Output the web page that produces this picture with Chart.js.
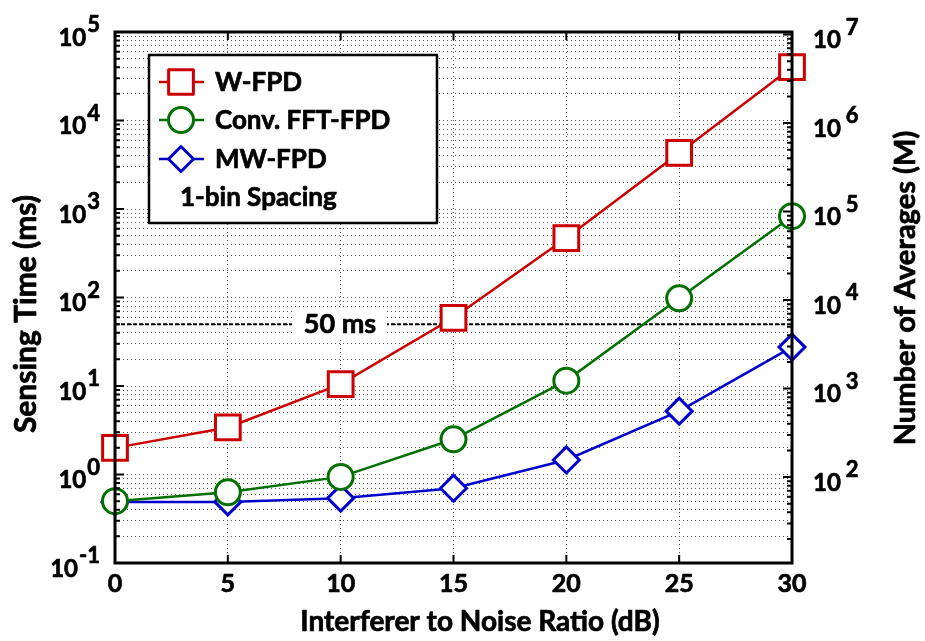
<!DOCTYPE html>
<html>
<head>
<meta charset="utf-8">
<title>Sensing Time vs INR</title>
<script src="https://cdn.jsdelivr.net/npm/chart.js@4.4.1/dist/chart.umd.min.js"></script>
<style>
    html, body { margin: 0; padding: 0; background: #fff; }
    #wrap { width: 925px; height: 641px; position: relative; }
</style>
</head>
<body>
<div id="wrap"><canvas id="sensingChart"></canvas></div>
<script>
// Interferer-to-noise ratio (dB) and sensing time (ms) per detector
const inrDb = [0, 5, 10, 15, 20, 25, 30];
const wFpd = [2.0, 3.4, 10.5, 59, 470, 4300, 40000];
const convFftFpd = [0.50, 0.63, 0.94, 2.5, 11.5, 98, 830];
const mwFpd = [0.49, 0.49, 0.54, 0.70, 1.46, 5.2, 27.5];
const limitMs = 50;

const xTicks = [0, 5, 10, 15, 20, 25, 30];
const leftExp = [-1, 0, 1, 2, 3, 4, 5];
const rightExp = [2, 3, 4, 5, 6, 7];
const rightMin = 10.7, rightMax = 1.07e7;

const RED = '#cc0000', GREEN = '#007000', BLUE = '#0000cc';
const FONT = 'Lato, "Open Sans", sans-serif';

// every k*10^n between min and max, k = 1 marks a decade
function logTicks(min, max) {
    const out = [];
    for (let e = Math.floor(Math.log10(min)); e <= Math.ceil(Math.log10(max)); e++) {
        for (let k = 1; k <= 9; k++) {
            const v = k * Math.pow(10, e);
            if (v >= min * 0.999 && v <= max * 1.001) out.push({ value: v, major: k === 1 });
        }
    }
    return out;
}

const pts = arr => inrDb.map((x, i) => ({ x: x, y: arr[i] }));

// bold text with a hairline stroke so it reads a bit heavier
function heavyText(ctx, str, x, y) {
    ctx.lineWidth = 0.7;
    ctx.strokeStyle = ctx.fillStyle;
    ctx.lineJoin = 'round';
    ctx.strokeText(str, x, y);
    ctx.fillText(str, x, y);
}

function drawPow(ctx, x, y, exp, align) {
    const base = 'bold 24px ' + FONT;
    const sup = 'bold 22px ' + FONT;
    ctx.font = base;
    const wb = ctx.measureText('10').width;
    ctx.font = sup;
    const ws = ctx.measureText(String(exp)).width;
    const gap = align === 'right' ? 1 : 5;
    const x0 = align === 'right' ? x - wb - ws - gap : x;
    ctx.textAlign = 'left';
    ctx.textBaseline = 'middle';
    ctx.font = base;
    heavyText(ctx, '10', x0, y + 6);
    ctx.font = sup;
    heavyText(ctx, String(exp), x0 + wb + gap, y - 7);
}

const framePlugin = {
    id: 'frame',
    afterDatasetsDraw(chart) {
        const ctx = chart.ctx;
        const y = chart.scales.y;
        // label for the 50 ms budget line
        const ly = y.getPixelForValue(limitMs);
        ctx.save();
        ctx.fillStyle = '#fff';
        ctx.fillRect(292, ly - 16, 95, 32);
        ctx.fillStyle = '#000';
        ctx.font = 'bold 27px ' + FONT;
        ctx.textAlign = 'center';
        ctx.textBaseline = 'middle';
        heavyText(ctx, '50 ms', 340, ly);

        // legend box
        ctx.fillStyle = '#fff';
        ctx.fillRect(149, 55, 288, 168);
        ctx.strokeStyle = '#000';
        ctx.lineWidth = 2.5;
        ctx.strokeRect(149, 55, 288, 168);
        const rows = [
            { label: 'W-FPD', color: RED, style: 'rect', y: 82 },
            { label: 'Conv. FFT-FPD', color: GREEN, style: 'circle', y: 120 },
            { label: 'MW-FPD', color: BLUE, style: 'rectRot', y: 159 }
        ];
        rows.forEach(r => {
            ctx.strokeStyle = r.color;
            ctx.lineWidth = 2.5;
            ctx.beginPath();
            ctx.moveTo(159, r.y);
            ctx.lineTo(204, r.y);
            ctx.stroke();
            ctx.fillStyle = '#fff';
            ctx.lineWidth = 3;
            Chart.helpers.drawPoint(ctx, { pointStyle: r.style, radius: r.style === 'rect' ? 17.5 : 12.5, rotation: 0, borderWidth: 3 }, 181, r.y);
            ctx.fillStyle = '#000';
            ctx.font = 'bold 26px ' + FONT;
            ctx.textAlign = 'left';
            ctx.textBaseline = 'middle';
            heavyText(ctx, r.label, 215, r.y + 1);
        });
        heavyText(ctx, '1-bin Spacing', 180, 198);
        ctx.restore();
    },
    afterDraw(chart) {
        const ctx = chart.ctx;
        const a = chart.chartArea;
        const x = chart.scales.x, y = chart.scales.y, y2 = chart.scales.y2;
        ctx.save();
        ctx.strokeStyle = '#000';

        // inward ticks
        ctx.lineWidth = 2;
        ctx.beginPath();
        y.ticks.forEach(t => {
            const p = y.getPixelForValue(t.value);
            const len = t.major ? 9 : 5;
            ctx.moveTo(a.left, p); ctx.lineTo(a.left + len, p);
        });
        y2.ticks.forEach(t => {
            const p = y2.getPixelForValue(t.value);
            const len = t.major ? 9 : 5;
            ctx.moveTo(a.right, p); ctx.lineTo(a.right - len, p);
        });
        xTicks.forEach(v => {
            const p = x.getPixelForValue(v);
            ctx.moveTo(p, a.bottom); ctx.lineTo(p, a.bottom - 8);
            ctx.moveTo(p, a.top); ctx.lineTo(p, a.top + 8);
        });
        ctx.stroke();

        // axes box
        ctx.lineWidth = 3;
        ctx.strokeRect(a.left, a.top, a.right - a.left, a.bottom - a.top);

        // tick labels
        ctx.fillStyle = '#000';
        leftExp.forEach(e => drawPow(ctx, a.left - 15, y.getPixelForValue(Math.pow(10, e)), e, 'right'));
        rightExp.forEach(e => drawPow(ctx, a.right + 21, y2.getPixelForValue(Math.pow(10, e)), e, 'left'));
        ctx.font = 'bold 25px ' + FONT;
        ctx.textAlign = 'center';
        ctx.textBaseline = 'middle';
        xTicks.forEach(v => heavyText(ctx, String(v), x.getPixelForValue(v), a.bottom + 21));

        // axis titles
        ctx.font = 'bold 28px ' + FONT;
        heavyText(ctx, 'Interferer to Noise Ratio (dB)', 480, 622);
        ctx.save();
        ctx.translate(26, 314);
        ctx.rotate(-Math.PI / 2);
        ctx.font = 'bold 30px ' + FONT;
        heavyText(ctx, 'Sensing Time (ms)', 0, 0);
        ctx.restore();
        ctx.save();
        ctx.translate(906, 288);
        ctx.rotate(-Math.PI / 2);
        ctx.font = 'bold 29px ' + FONT;
        heavyText(ctx, 'Number of Averages (M)', 0, 0);
        ctx.restore();
        ctx.restore();
    }
};

const series = (label, arr, color, style, radius) => ({
    label: label,
    data: pts(arr),
    borderColor: color,
    borderWidth: 2.5,
    pointStyle: style,
    pointRadius: radius,
    pointHoverRadius: radius,
    pointBorderWidth: 3,
    pointBackgroundColor: '#fff',
    pointBorderColor: color,
    tension: 0,
    clip: false,
    order: 1
});

new Chart(document.getElementById('sensingChart').getContext('2d'), {
    type: 'line',
    data: {
        datasets: [
            {
                label: '50 ms',
                data: [{ x: inrDb[0], y: limitMs }, { x: inrDb[inrDb.length - 1], y: limitMs }],
                borderColor: '#000',
                borderWidth: 2,
                borderDash: [4, 2],
                pointRadius: 0,
                order: 10
            },
            series('W-FPD', wFpd, RED, 'rect', 17.5),
            series('Conv. FFT-FPD', convFftFpd, GREEN, 'circle', 12.5),
            series('MW-FPD', mwFpd, BLUE, 'rectRot', 13)
        ]
    },
    options: {
        responsive: true,
        maintainAspectRatio: false,
        animation: false,
        events: [],
        layout: { padding: { left: 115, right: 133, top: 32, bottom: 78 } },
        plugins: { legend: { display: false }, tooltip: { enabled: false } },
        scales: {
            x: {
                type: 'linear',
                min: 0,
                max: 30,
                afterBuildTicks: s => { s.ticks = xTicks.map(v => ({ value: v })); },
                ticks: { display: false },
                grid: { color: '#555', lineWidth: 1, drawTicks: false },
                border: { display: false, dash: [1, 3] }
            },
            y: {
                type: 'logarithmic',
                position: 'left',
                min: 0.1,
                max: 1e5,
                afterBuildTicks: s => { s.ticks = logTicks(0.1, 1e5); },
                ticks: { display: false },
                grid: { color: '#555', lineWidth: 1, drawTicks: false },
                border: { display: false, dash: [1, 3] }
            },
            y2: {
                type: 'logarithmic',
                position: 'right',
                min: rightMin,
                max: rightMax,
                afterBuildTicks: s => { s.ticks = logTicks(rightMin, rightMax); },
                ticks: { display: false },
                grid: { display: false, drawTicks: false },
                border: { display: false }
            }
        }
    },
    plugins: [framePlugin]
});
</script>
</body>
</html>
